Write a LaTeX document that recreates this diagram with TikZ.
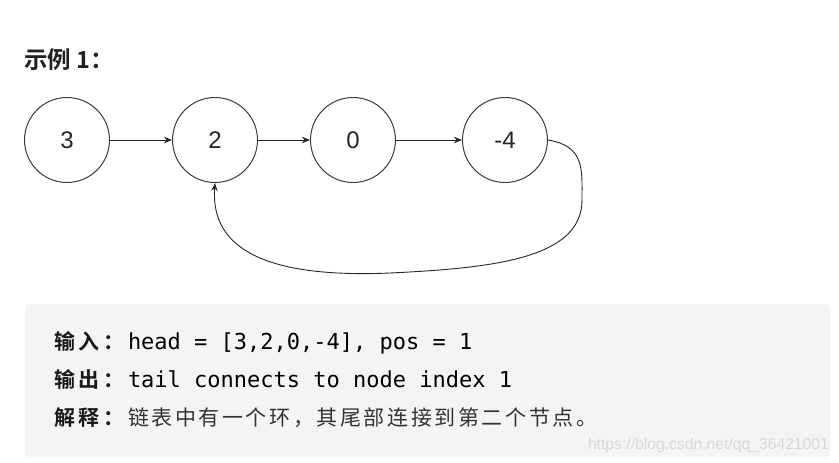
\documentclass[tikz,border=0pt]{standalone}
\usepackage{fontspec}
\setmainfont{Liberation Sans}
\newfontfamily\cjk{Noto Sans CJK SC}[BoldFont={Noto Sans CJK SC Bold}]
\newfontfamily\mono{DejaVu Sans Mono}
\usetikzlibrary{arrows.meta}
\definecolor{boxgray}{HTML}{F4F4F4}
\definecolor{ringgray}{HTML}{3A3A3A}
\definecolor{wmgray}{HTML}{D8D8D8}
\makeatletter
\def\spr@w{24pt}
\newcommand\spreadtext[2]{\def\spr@w{#1}\spr@loop#2\relax}
\def\spr@loop#1{\ifx#1\relax\else\makebox[\spr@w][l]{#1}\expandafter\spr@loop\fi}
\makeatother
\tikzset{
  listnode/.style={circle, draw=ringgray, line width=1pt, minimum size=85pt, inner sep=0pt,
    font=\fontsize{24}{28}\selectfont, text=black!85},
  arr/.style={draw=black!85, line width=0.9pt, -{Stealth[length=8pt,width=6.5pt]}},
  txt/.style={anchor=base west, inner sep=0pt, outer sep=0pt},
}
\begin{document}
\begin{tikzpicture}[x=1pt,y=-1pt]
\useasboundingbox (0,0) rectangle (839,463);
\fill[white] (0,0) rectangle (839,463);
% title
\node[txt, text=black!87] (title) at (24,68) {\cjk\bfseries\fontsize{23.5}{27}\selectfont 示例\hspace{6pt}1：};
% list nodes
\node[listnode] (n3) at (67,140) {3};
\node[listnode] (n2) at (215,140) {2};
\node[listnode] (n0) at (353,140) {0};
\node[listnode] (n4) at (505,140) {-4};
\draw[arr] (n3) -- (n2);
\draw[arr] (n2) -- (n0);
\draw[arr] (n0) -- (n4);
\draw[arr] (n4.east) .. controls (585,146) and (582,170) .. (582,200)
  .. controls (582,258) and (495,268) .. (390,273)
  .. controls (250,279) and (211,240) .. (n2.south);
% example box
\fill[boxgray, rounded corners=4pt] (25,304) rectangle (830,457);
\node[txt, text=black!90] (l1) at (54,349) {\cjk\bfseries\fontsize{21}{25}\selectfont\spreadtext{24.7pt}{输入：}};
\node[txt, text=black] (v1) at (128,349) {\mono\fontsize{22}{26}\selectfont head = [3,2,0,-4], pos = 1};
\node[txt, text=black!90] (l2) at (54,387) {\cjk\bfseries\fontsize{21}{25}\selectfont\spreadtext{24.7pt}{输出：}};
\node[txt, text=black] (v2) at (128,387) {\mono\fontsize{22}{26}\selectfont tail connects to node index 1};
\node[txt, text=black!90] (l3) at (54,425) {\cjk\bfseries\fontsize{21}{25}\selectfont\spreadtext{24.7pt}{解释：}};
\node[txt, text=black!80] (v3) at (128,425) {\cjk\fontsize{21}{25}\selectfont\spreadtext{23.6pt}{链表中有一个环，其尾部连接到第二个节点。}};
% watermark
\node[txt, text=wmgray] (wm) at (588,449) {\fontsize{15.7}{18}\selectfont https://blog.csdn.net/qq\_36421001};
\end{tikzpicture}
\end{document}
